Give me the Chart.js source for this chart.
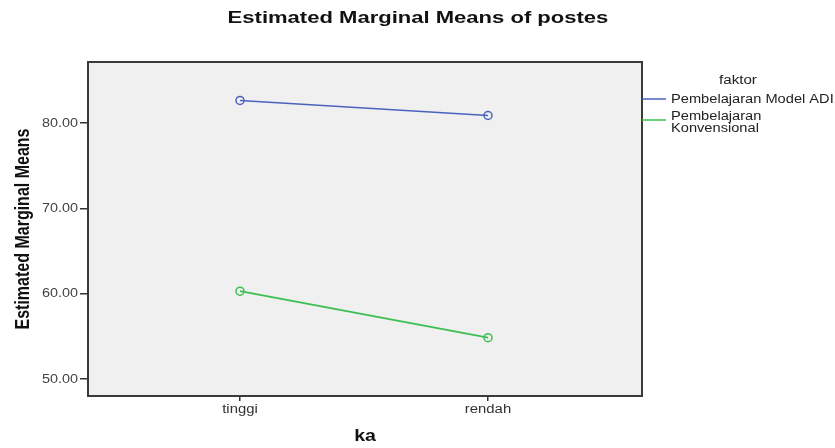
<!DOCTYPE html>
<html><head><meta charset="utf-8">
<script src="https://cdn.jsdelivr.net/npm/chart.js@4/dist/chart.umd.min.js"></script>
<style>html,body{margin:0;padding:0;background:#fff;}#wrap{width:835px;height:448px;}</style>
</head><body><div id="wrap"><canvas id="c" width="835" height="448"></canvas></div>
<script>
const categories = ["tinggi", "rendah"];
const seriesNames = ["Pembelajaran Model ADI", ["Pembelajaran", "Konvensional"]];
const adiValues = [82.64, 80.88];
const konvValues = [60.29, 54.84];
const yTicks = [50, 60, 70, 80];
const colors = ["#4a62bd", "#3cbf50"];

const FONT = "'Liberation Sans', Arial, sans-serif";

function txt(ctx, s, x, y, font, sx, align, base, color, rot) {
  ctx.save();
  ctx.translate(x, y);
  ctx.scale(sx, 1);
  if (rot) ctx.rotate(rot);
  ctx.font = font;
  ctx.textAlign = align;
  ctx.textBaseline = base;
  ctx.fillStyle = color;
  ctx.fillText(s, 0, 0);
  ctx.restore();
}

const boxPlugin = {
  id: 'box',
  beforeDraw(chart) {
    const a = chart.chartArea, ctx = chart.ctx;
    ctx.save();
    ctx.fillStyle = '#f0f0f0';
    ctx.fillRect(a.left, a.top, a.right - a.left, a.bottom - a.top);
    ctx.restore();
  },
  afterDraw(chart) {
    const a = chart.chartArea, ctx = chart.ctx;
    ctx.save();
    ctx.strokeStyle = '#3a3a3a';
    ctx.lineWidth = 2;
    ctx.strokeRect(a.left, a.top, a.right - a.left, a.bottom - a.top);
    ctx.restore();
    // title
    txt(ctx, "Estimated Marginal Means of postes", 418, 19, "bold 16px " + FONT, 1.377, 'center', 'middle', '#111');
    // axis tick labels
    const xs = chart.scales.x, ys = chart.scales.y;
    categories.forEach((c, i) => {
      txt(ctx, c, xs.getPixelForValue(i), 404, "12px " + FONT, 1.24, 'center', 'top', '#333');
    });
    yTicks.forEach(v => {
      txt(ctx, v.toFixed(2), 78, ys.getPixelForValue(v) + 0.5, "12px " + FONT, 1.2, 'right', 'middle', '#444');
    });
    // axis titles
    txt(ctx, "ka", 365, 437, "bold 16px " + FONT, 1.22, 'center', 'middle', '#111');
    txt(ctx, "Estimated Marginal Means", 23, (a.top + a.bottom) / 2 + 0, "bold 16px " + FONT, 1.3, 'center', 'middle', '#111', -Math.PI / 2);
    // legend
    txt(ctx, "faktor", 738, 81, "12px " + FONT, 1.26, 'center', 'middle', '#222');
    const ly = [99, 120];
    chart.data.datasets.forEach((ds, i) => {
      ctx.save();
      ctx.strokeStyle = ds.borderColor;
      ctx.lineWidth = 1.5;
      ctx.beginPath();
      ctx.moveTo(a.right, ly[i]); ctx.lineTo(a.right + 24, ly[i]);
      ctx.stroke();
      ctx.restore();
      const lbl = seriesNames[i];
      if (Array.isArray(lbl)) {
        txt(ctx, lbl[0], a.right + 29, 116.5, "12px " + FONT, 1.22, 'left', 'middle', '#222');
        txt(ctx, lbl[1], a.right + 29, 128.5, "12px " + FONT, 1.22, 'left', 'middle', '#222');
      } else {
        txt(ctx, lbl, a.right + 29, 99.5, "12px " + FONT, 1.22, 'left', 'middle', '#222');
      }
    });
  }
};

new Chart(document.getElementById('c'), {
  type: 'line',
  data: {
    datasets: [
      { label: "Pembelajaran Model ADI", data: adiValues.map((v, i) => ({x: i, y: v})),
        borderColor: colors[0], backgroundColor: 'transparent', borderWidth: 1.6,
        pointRadius: 4, pointBorderWidth: 1.5, pointBackgroundColor: 'transparent', pointBorderColor: colors[0] },
      { label: "Pembelajaran Konvensional", data: konvValues.map((v, i) => ({x: i, y: v})),
        borderColor: colors[1], backgroundColor: 'transparent', borderWidth: 1.6,
        pointRadius: 4, pointBorderWidth: 1.5, pointBackgroundColor: 'transparent', pointBorderColor: colors[1] }
    ]
  },
  options: {
    responsive: false,
    animation: false,
    layout: { padding: { top: 62, right: 193, left: 0, bottom: 0 } },
    plugins: { legend: { display: false }, title: { display: false }, tooltip: { enabled: false } },
    scales: {
      x: {
        type: 'linear', min: -0.613, max: 1.621,
        afterBuildTicks: (s) => { s.ticks = categories.map((c, i) => ({ value: i })); },
        afterFit: (s) => { s.height = 52; },
        ticks: { display: false },
        grid: { display: true, drawOnChartArea: false, drawTicks: true, tickLength: 5, color: '#333', lineWidth: 1.5 },
        border: { display: false },
        title: { display: false }
      },
      y: {
        min: 48.0, max: 87.15,
        afterBuildTicks: (s) => { s.ticks = yTicks.map(v => ({ value: v })); },
        afterFit: (s) => { s.width = 88; },
        ticks: { display: false },
        grid: { display: true, drawOnChartArea: false, drawTicks: true, tickLength: 8, color: '#333', lineWidth: 1.5 },
        border: { display: false },
        title: { display: false }
      }
    }
  },
  plugins: [boxPlugin]
});
</script></body></html>
